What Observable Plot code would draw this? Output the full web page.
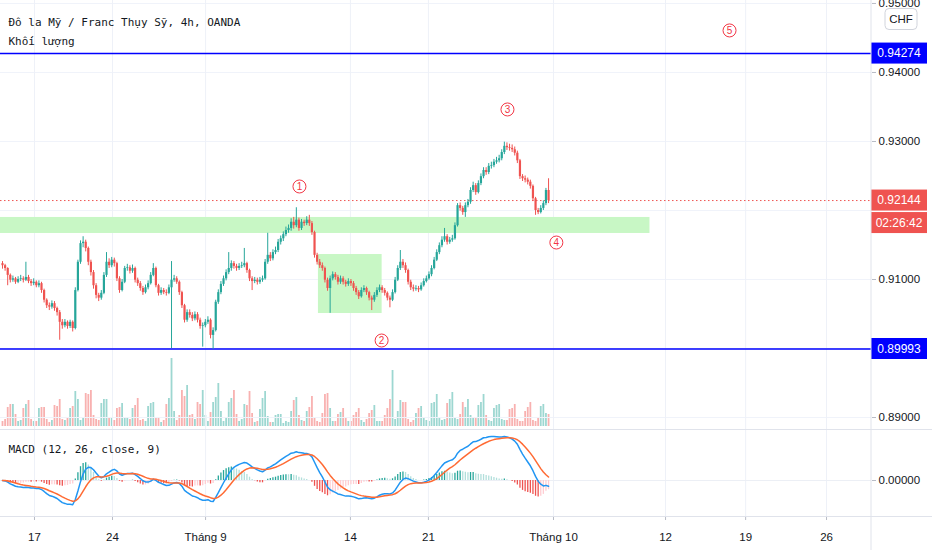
<!DOCTYPE html>
<html><head><meta charset="utf-8">
<script src="https://cdn.jsdelivr.net/npm/d3@7"></script>
<script src="https://cdn.jsdelivr.net/npm/@observablehq/plot@0.6"></script>
<style>
html,body{margin:0;padding:0;background:#fff;}
#wrap{position:relative;width:932px;height:550px;overflow:hidden;background:#fff;}
#wrap > svg{position:absolute;left:0;}
#wrap g[aria-label="y-axis tick"], #wrap g[aria-label="x-axis tick"]{color:#b8bcc6;}
</style></head><body><div id="wrap"></div>
<script>
// ---------------- DATA (prices in pips above 0.90000; 1 pip = 0.0001) ----------------
const priceBase = 0.9, pip = 0.0001;
const firstOpenPips = 123;
const closePips = [120,116,106,99,101,96,100,101,99,103,
97,94,96,91,94,84,70,62,60,65,
58,52,38,33,38,32,38,29,84,125,
152,154,145,125,110,91,77,73,80,106,
125,120,128,123,101,84,96,116,117,112,
116,99,94,87,81,88,94,106,116,91,
80,84,81,80,88,99,101,96,81,62,
41,52,48,43,49,41,32,33,38,41,
19,26,67,81,93,101,110,116,123,119,
116,119,120,123,113,101,97,99,96,99,
101,125,135,130,139,142,154,159,165,171,
174,183,178,186,174,183,181,186,181,168,
135,125,120,116,99,87,101,107,103,96,
101,96,93,97,94,87,81,75,84,87,
81,73,70,77,84,88,84,80,73,70,
81,99,116,125,120,113,96,88,86,87,
85,91,97,101,107,116,128,139,149,157,
162,154,157,159,178,207,203,197,207,212,
229,236,226,239,249,258,255,264,265,270,
272,275,284,293,291,290,288,283,272,249,
246,244,241,235,217,200,197,203,210,229,
214.4];
const highPips = [126,122,117,108,105,103,104,106,104,125,
106,100,101,98,98,96,86,72,66,69,
68,60,55,42,42,40,41,40,88,128,
156,162,157,147,128,113,94,80,84,110,
139,130,132,131,125,104,100,119,122,120,
121,118,102,97,90,92,98,110,123,118,
93,88,87,85,92,126,106,104,98,83,
64,56,56,52,53,52,44,37,42,46,
43,30,70,85,97,105,114,139,127,126,
122,123,125,145,125,115,104,103,102,103,
105,129,167,139,143,147,158,163,169,176,
179,188,190,204,189,187,186,191,193,184,
170,138,129,124,118,102,105,111,110,106,
105,104,99,101,100,97,90,84,88,91,
89,83,76,81,88,92,91,87,82,76,
85,103,120,142,129,124,115,99,92,91,
90,95,101,105,111,120,132,143,153,162,
174,165,161,164,182,210,211,206,211,216,
233,241,239,243,253,262,262,268,270,274,
277,280,288,299,298,296,295,292,286,274,
252,250,247,244,237,219,203,207,214,232,
246];
const lowPips = [115,112,91,95,96,93,94,97,95,97,
94,90,91,88,88,80,66,58,55,57,
54,47,12,28,30,28,29,24,27,82,
122,146,140,120,105,86,72,68,70,78,
103,116,117,118,97,80,82,94,112,108,
109,95,90,83,77,79,85,92,104,88,
76,77,78,76,78,0,96,93,77,58,
37,38,44,39,40,37,28,2,30,35,
14,-1,24,64,78,90,98,107,112,115,
112,113,116,117,109,97,84,94,92,93,
96,99,122,126,127,136,139,150,155,162,
167,170,173,175,170,171,177,178,177,164,
131,121,116,112,95,83,51,98,99,92,
93,92,89,90,90,83,77,71,73,81,
77,69,55,67,74,81,80,76,69,59,
68,79,97,113,116,109,92,84,82,83,
81,83,89,95,99,104,114,126,136,146,
154,150,151,154,157,176,199,193,190,204,
209,226,222,224,236,246,251,252,260,262,
267,269,272,281,287,286,284,279,268,245,
242,240,237,231,213,193,194,195,200,207,
210];
// volume (relative units)
const volumes = [5,7,19,22,22,12,5,6,18,22,26,7,5,5,18,19,19,7,4,6,
21,20,27,7,6,8,18,20,35,27,6,8,33,32,36,11,7,6,23,27,
27,8,8,6,18,19,23,8,8,7,18,21,28,6,7,5,20,23,24,8,
9,4,6,22,28,68,15,6,11,36,30,41,11,12,7,24,22,36,11,5,
14,24,29,43,15,5,8,24,28,36,12,5,7,22,21,35,13,4,5,17,
28,35,10,4,4,11,12,
12,3,5,4,15,26,29,11,6,5,15,19,30,8,5,4,13,32,33,18,
5,5,12,14,18,8,5,5,11,14,18,6,4,7,13,16,21,5,5,5,
11,18,27,56,7,15,26,24,24,7,4,6,13,18,20,8,6,5,23,24,
32,9,6,7,23,27,34,8,7,12,24,19,27,11,8,8,21,24,32,11,
6,5,18,21,22,7,6,6,17,18,22,7,5,5,15,19,24,6,5,8,
20,22,13,12];
// x-axis ticks (bar index) and labels
const dateTickIdx = [12.3, 42.3, 78.1, 133.8, 163.8, 211.9, 255, 285.8, 316.9];
const dateTickLabels = ["17","24","Tháng 9","14","21","Tháng 10","12","19","26"];
const priceGrid = [0.89, 0.90, 0.91, 0.92, 0.93, 0.94, 0.95];
const priceTickLabels = [0.89, 0.91, 0.93, 0.94, 0.95]; // 0.90000 and 0.92000 sit under the price tags
const macdTicks = [0];
// drawings
const levelLines = [0.94274, 0.89993];
const lastPrice = 0.92144;
const countdownText = "02:26:42";
const zoneX1 = [-0.8, 121.5];
const zoneX2 = [249, 146];
const zoneLow = [0.91667, 0.90507];
const zoneHigh = [0.91899, 0.91362];
const waveText = ["1","2","3","4","5"];
const waveIdx = [114.2, 145.8, 194.2, 213, 279.6];
const wavePrice = [0.92348, 0.90116, 0.93464, 0.91536, 0.94609];
const titleLine1 = "Đô la Mỹ / Franc Thụy Sỹ, 4h, OANDA";
const titleLine2 = "Khối lượng";
const macdTitle = "MACD (12, 26, close, 9)";
const currencyText = "CHF";

// ---------------- BUILD ----------------
const UP = "#26a69a", DOWN = "#ef5350";
const W = 932, MAIN_H = 430, MR = 61;
const xDomain = [-0.77, 334.2];
const yDomain = [0.88812, 0.95043];
const sans = "'Liberation Sans', Arial, sans-serif";
const mono = "'DejaVu Sans Mono', monospace";

const candles = closePips.map((c, i) => {
  const open = priceBase + (i === 0 ? firstOpenPips : closePips[i - 1]) * pip;
  const close = priceBase + c * pip;
  return {i, open, close, high: priceBase + highPips[i] * pip, low: priceBase + lowPips[i] * pip,
          vol: volumes[i], up: close >= open};
});
const zones = zoneX1.map((x1, k) => ({x1, x2: zoneX2[k], y1: zoneLow[k], y2: zoneHigh[k]}));
const waves = waveText.map((t, k) => ({t, x: waveIdx[k], y: wavePrice[k]}));
const labelMap = new Map(dateTickIdx.map((d, k) => [d, dateTickLabels[k]]));

// MACD (12, 26, close, 9)
function ema(arr, n) { const k = 2 / (n + 1); const out = []; let p; arr.forEach((v, i) => { p = i === 0 ? v : v * k + p * (1 - k); out.push(p); }); return out; }
const closes = candles.map(d => d.close);
const e12 = ema(closes, 12), e26 = ema(closes, 26);
const macd = e12.map((v, i) => v - e26[i]);
const signal = ema(macd, 9);
const macdRows = macd.map((m, i) => {
  const h = m - signal[i];
  const ph = i === 0 ? 0 : macd[i - 1] - signal[i - 1];
  const color = h >= 0 ? (h >= ph ? "#26a69a" : "#b2dfdb") : (h < ph ? "#ef5350" : "#ffcdd2");
  return {i, macd: m, signal: signal[i], hist: h, color};
});
const mMax = d3.max([...macd, ...signal]);
const mMin = d3.min([...macd, ...signal]);
const ppu = 44 / mMax;
let mBottom = -36 / ppu; if (mMin < mBottom * 0.95) mBottom = mMin / 0.95;
const macdDomain = [mBottom, 50 / ppu];

const wrap = document.getElementById("wrap");
const baseStyle = {background: "transparent", fontFamily: sans, fontSize: "11.5px", color: "#131722", overflow: "visible"};

// Volume layer (beneath)
const volPlot = Plot.plot({
  width: W, height: MAIN_H, marginLeft: 0, marginRight: MR, marginTop: 0, marginBottom: 4,
  x: {domain: xDomain, axis: null}, y: {domain: [0, 426], axis: null},
  style: baseStyle,
  marks: [
    Plot.ruleX(candles, {x: "i", y1: 0, y2: "vol", stroke: d => d.up ? UP : DOWN, strokeOpacity: 0.45, strokeWidth: 1.8})
  ]
});
volPlot.style.top = "0px";
wrap.appendChild(volPlot);

// Main price pane
const mainPlot = Plot.plot({
  width: W, height: MAIN_H, marginLeft: 0, marginRight: MR, marginTop: 0, marginBottom: 0,
  x: {domain: xDomain, axis: null},
  y: {domain: yDomain, axis: "right", ticks: priceTickLabels, tickFormat: d => d.toFixed(5), tickSize: 4, tickPadding: 3, label: null},
  style: baseStyle,
  marks: [
    Plot.ruleY(priceGrid, {stroke: "#f0f3fa"}),
    Plot.ruleX(dateTickIdx, {stroke: "#eef1f8"}),
    Plot.rect(zones, {x1: "x1", x2: "x2", y1: "y1", y2: "y2", fill: "#c8f7c5"}),
    Plot.ruleY(levelLines, {stroke: "#0000ff", strokeWidth: 1.5}),
    Plot.ruleY([lastPrice], {stroke: "#ef5350", strokeDasharray: "1.5,2.5", strokeWidth: 1}),
    Plot.ruleX(candles, {x: "i", y1: "low", y2: "high", stroke: d => d.up ? UP : DOWN, strokeWidth: 1}),
    Plot.ruleX(candles, {x: "i", y1: "open", y2: "close", stroke: d => d.up ? UP : DOWN, strokeWidth: 2.2}),
    Plot.dot(waves, {x: "x", y: "y", r: 6.5, stroke: "#f23645", fill: "white", strokeWidth: 1}),
    Plot.text(waves, {x: "x", y: "y", text: "t", fill: "#f23645", fontSize: 10, fontFamily: sans}),
    Plot.text([titleLine1], {frameAnchor: "top-left", dx: 8, dy: 22, lineAnchor: "middle", fontFamily: mono, fontSize: 11, fill: "#131722"}),
    Plot.text([titleLine2], {frameAnchor: "top-left", dx: 8, dy: 41, lineAnchor: "middle", fontFamily: mono, fontSize: 11, fill: "#131722"})
  ]
});
mainPlot.style.top = "0px";
wrap.appendChild(mainPlot);

// price tags on the right axis, positioned with the plot's own y scale
{
  const ys = mainPlot.scale("y");
  const y = d3.scaleLinear().domain(ys.domain).range(ys.range);
  const svg = d3.select(mainPlot);
  const ax = W - MR, tagW = 56;
  const tag = (py, txt, fill) => {
    svg.append("rect").attr("x", ax).attr("y", py - 10.5).attr("width", tagW).attr("height", 21).attr("fill", fill);
    svg.append("text").attr("x", ax + tagW / 2).attr("y", py).attr("dy", "0.36em").attr("text-anchor", "middle")
      .attr("fill", "white").attr("font-family", sans).attr("font-size", "12px").text(txt);
  };
  tag(y(levelLines[0]), levelLines[0].toFixed(5), "#0000ff");
  tag(y(levelLines[1]), levelLines[1].toFixed(5), "#0000ff");
  tag(y(lastPrice), lastPrice.toFixed(5), "#ef5350");
  tag(y(lastPrice) + 22.5, countdownText, "#ef5350");
  svg.append("rect").attr("x", ax + 14).attr("y", 8.5).attr("width", 32).attr("height", 21).attr("rx", 4)
    .attr("fill", "white").attr("stroke", "#d1d4dc");
  svg.append("text").attr("x", ax + 30).attr("y", 19).attr("dy", "0.36em").attr("text-anchor", "middle")
    .attr("fill", "#131722").attr("font-family", sans).attr("font-size", "11.5px").text(currencyText);
  svg.append("line").attr("x1", ax).attr("x2", ax).attr("y1", 0).attr("y2", MAIN_H).attr("stroke", "#e0e3eb");
  svg.append("line").attr("x1", 0).attr("x2", W).attr("y1", MAIN_H - 0.5).attr("y2", MAIN_H - 0.5).attr("stroke", "#e0e3eb");
}

// MACD pane + time axis
const macdPlot = Plot.plot({
  width: W, height: 120, marginLeft: 0, marginRight: MR, marginTop: 0, marginBottom: 34,
  x: {domain: xDomain, ticks: dateTickIdx, tickFormat: d => labelMap.get(d), tickSize: 4, tickPadding: 12, label: null},
  y: {domain: macdDomain, axis: "right", ticks: macdTicks, tickFormat: d => d.toFixed(5), tickSize: 4, tickPadding: 3, label: null},
  style: baseStyle,
  marks: [
    Plot.ruleX(dateTickIdx, {stroke: "#eef1f8"}),
    Plot.ruleY(macdTicks, {stroke: "#eceff5"}),
    Plot.ruleX(macdRows, {x: "i", y1: 0, y2: "hist", stroke: "color", strokeWidth: 1.3}),
    Plot.line(macdRows, {x: "i", y: "macd", stroke: "#2196f3", strokeWidth: 1.5}),
    Plot.line(macdRows, {x: "i", y: "signal", stroke: "#ff6a33", strokeWidth: 1.5}),
    Plot.text([macdTitle], {frameAnchor: "top-left", dx: 8, dy: 19, lineAnchor: "middle", fontFamily: mono, fontSize: 11, fill: "#131722"})
  ]
});
macdPlot.style.top = MAIN_H + "px";
wrap.appendChild(macdPlot);
{
  const svg = d3.select(macdPlot);
  const ax = W - MR;
  svg.append("line").attr("x1", ax).attr("x2", ax).attr("y1", 0).attr("y2", 120).attr("stroke", "#e0e3eb");
  svg.append("line").attr("x1", 0).attr("x2", W).attr("y1", 86.5).attr("y2", 86.5).attr("stroke", "#e0e3eb");
}
</script></body></html>
